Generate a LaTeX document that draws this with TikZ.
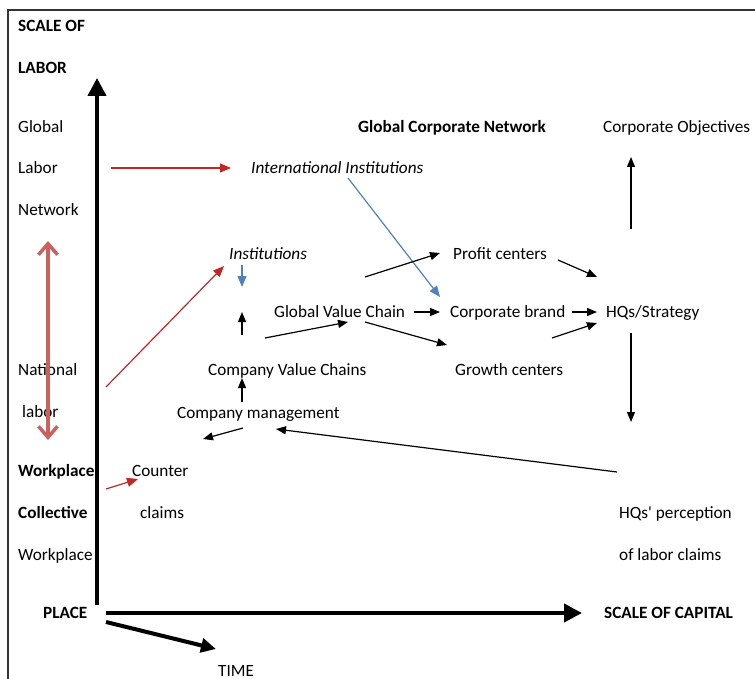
\documentclass[tikz,border=0pt]{standalone}
\usepackage{fontspec}
\setmainfont{Carlito}
\usetikzlibrary{arrows.meta}
\definecolor{labred}{RGB}{196,38,38}
\definecolor{softred}{RGB}{204,96,94}
\definecolor{instblue}{RGB}{79,129,189}
\begin{document}
\begin{tikzpicture}
            [x=1pt,y=-1pt,
             lbl/.style={anchor=base west,inner sep=0pt,font=\fontsize{17.2}{20}\selectfont},
             arr/.style={line width=1.2pt,-{Triangle[length=10pt,width=8pt]}},
             axis/.style={line width=4pt,-{Triangle[length=18pt,width=18pt]}},
             redarr/.style={labred,line width=1.2pt,-{Triangle[length=11pt,width=9pt]}},
             bluearr/.style={instblue,line width=1.2pt,-{Triangle[length=11pt,width=9pt]}},
             twoway/.style={softred,line width=3.5pt,{Straight Barb[length=11pt,width=19pt]}-{Straight Barb[length=11pt,width=19pt]}}]
            \useasboundingbox (0,0) rectangle (755,679);
            \draw[line width=1.5pt,black!80] (8,679) -- (8,10) -- (755,10);
            % left column
            \node[lbl] (scaleof) at (18,32) {\bfseries SCALE OF};
            \node[lbl] (laborax) at (18,74) {\bfseries LABOR};
            \node[lbl] (global) at (18,133) {Global};
            \node[lbl] (labor) at (18,174) {Labor};
            \node[lbl] (network) at (18,216) {Network};
            \node[lbl] (national) at (18,375) {National};
            \node[lbl] (nlabor) at (22,417) {labor};
            \node[lbl] (workplace) at (18,476) {\bfseries Workplace};
            \node[lbl] (collective) at (18,518) {\bfseries Collective};
            \node[lbl] (workplaceb) at (18,560) {Workplace};
            \node[lbl] (place) at (43,618) {\bfseries PLACE};
            \node[lbl] (time) at (218,676) {TIME};
            \node[lbl] (capital) at (604,618) {\bfseries SCALE OF CAPITAL};
            % middle
            \node[lbl] (gcn) at (358,133) {\bfseries Global Corporate Network};
            \node[lbl] (objectives) at (603,133) {Corporate Objectives};
            \node[lbl] (intl) at (251,174) {\itshape International Institutions};
            \node[lbl] (inst) at (229,259) {\itshape Institutions};
            \node[lbl] (profit) at (453,259) {Profit centers};
            \node[lbl] (gvc) at (274,317) {Global Value Chain};
            \node[lbl] (brand) at (450,317) {Corporate brand};
            \node[lbl] (hq) at (606,317) {HQs/Strategy};
            \node[lbl] (cvc) at (208,375) {Company Value Chains};
            \node[lbl] (growth) at (455,375) {Growth centers};
            \node[lbl] (mgmt) at (177,418) {Company management};
            \node[lbl] (counter) at (132,476) {Counter};
            \node[lbl] (claims) at (140,518) {claims};
            \node[lbl] (perception) at (619,518) {HQs\textquotesingle{} perception};
            \node[lbl] (ofclaims) at (619,560) {of labor claims};
            % axes
            \coordinate (yfoot) at (97,605);
            \coordinate (ytip) at (97,78);
            \coordinate (xfoot) at (106,613);
            \coordinate (xtip) at (582,613);
            \coordinate (tfoot) at (106,622);
            \coordinate (ttip) at (216,649);
            \draw[axis] (yfoot) -- (ytip);
            \draw[axis] (xfoot) -- (xtip);
            \draw[axis,-{Triangle[length=15pt,width=14pt]}] (tfoot) -- (ttip);
            % labor side
            \draw[twoway] ([shift={(30,25)}]network.base west) -- ([shift={(26,23)}]nlabor.base west);
            \draw[redarr] ([shift={(93,-6)}]labor.base west) -- ([shift={(-20,-6)}]intl.base west);
            \draw[redarr] ([shift={(88,12)}]national.base west) -- ([shift={(-5,7)}]inst.base west);
            \draw[redarr] ([shift={(88,13)}]workplace.base west) -- ([shift={(6,3)}]counter.base west);
            \draw[bluearr] ([shift={(97,4)}]intl.base west) -- ([shift={(-10,-20)}]brand.base west);
            \draw[bluearr] ([shift={(13,6)}]inst.base west) -- ([shift={(13,28)}]inst.base west);
            % value chains
            \draw[arr] ([shift={(34,-40)}]cvc.base west) -- ([shift={(13,53)}]inst.base west);
            \draw[arr] ([shift={(65,-16)}]mgmt.base west) -- ([shift={(34,3)}]cvc.base west);
            \draw[arr] ([shift={(57,-37)}]cvc.base west) -- ([shift={(74,5)}]gvc.base west);
            \draw[arr] ([shift={(91,-40)}]gvc.base west) -- ([shift={(-13,-6)}]profit.base west);
            \draw[arr] ([shift={(140,-5)}]gvc.base west) -- ([shift={(-10,-5)}]brand.base west);
            \draw[arr] ([shift={(91,5)}]gvc.base west) -- ([shift={(-8,-30)}]growth.base west);
            % corporate side
            \draw[arr] ([shift={(105,1)}]profit.base west) -- ([shift={(-9,-40)}]hq.base west);
            \draw[arr] ([shift={(122,-5)}]brand.base west) -- ([shift={(-9,-5)}]hq.base west);
            \draw[arr] ([shift={(97,-37)}]growth.base west) -- ([shift={(-9,6)}]hq.base west);
            \draw[arr] ([shift={(25,-88)}]hq.base west) -- ([shift={(28,24)}]objectives.base west);
            \draw[arr] ([shift={(25,16)}]hq.base west) -- ([shift={(12,-96)}]perception.base west);
            \draw[arr] ([shift={(-2,-46)}]perception.base west) -- ([shift={(99,11)}]mgmt.base west);
            \draw[arr] ([shift={(66,10)}]mgmt.base west) -- ([shift={(26,21)}]mgmt.base west);
        \end{tikzpicture}
\end{document}
